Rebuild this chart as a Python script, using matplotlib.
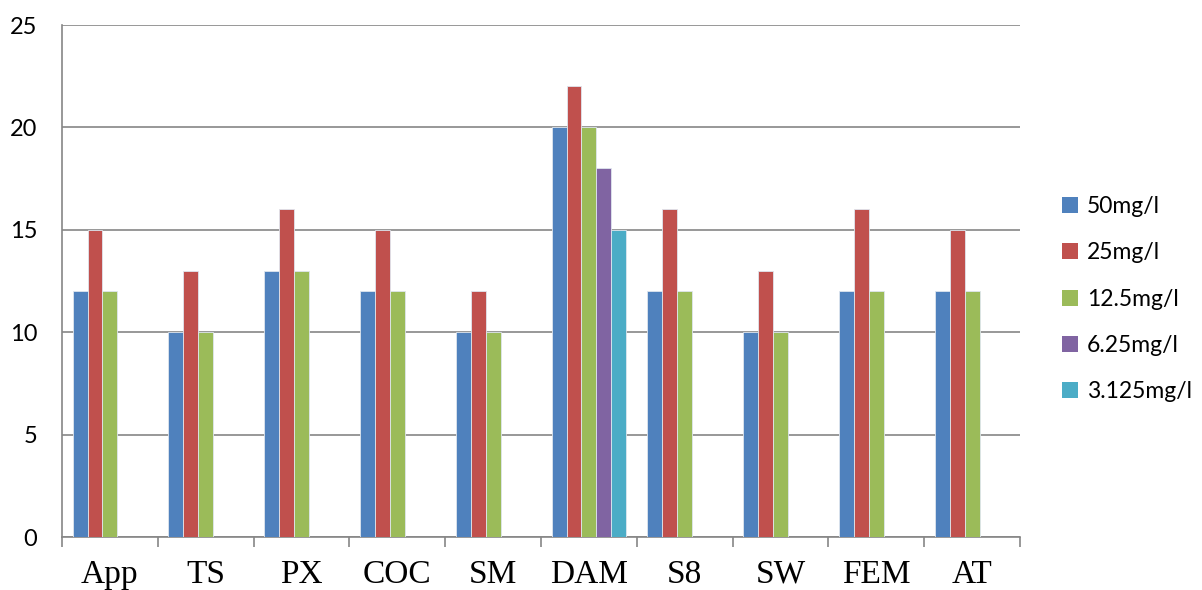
import numpy as np
import matplotlib.pyplot as plt
from matplotlib.patches import Patch

categories = ["App", "TS", "PX", "COC", "SM", "DAM", "S8", "SW", "FEM", "AT"]
series_names = ["50mg/l", "25mg/l", "12.5mg/l", "6.25mg/l", "3.125mg/l"]
s50 = [12, 10, 13, 12, 10, 20, 12, 10, 12, 12]
s25 = [15, 13, 16, 15, 12, 22, 16, 13, 16, 15]
s12_5 = [12, 10, 13, 12, 10, 20, 12, 10, 12, 12]
s6_25 = [0, 0, 0, 0, 0, 18, 0, 0, 0, 0]
s3_125 = [0, 0, 0, 0, 0, 15, 0, 0, 0, 0]
colors = ["#4F81BD", "#C0504D", "#9BBB59", "#8064A2", "#4BACC6"]

fig = plt.figure(figsize=(12.02, 5.9), dpi=100)
ax = fig.add_axes([0.0516, 0.0898, 0.797, 0.8678])

x = np.arange(len(categories))
w = 0.156
all_series = [s50, s25, s12_5, s6_25, s3_125]
for i, (vals, c) in enumerate(zip(all_series, colors)):
    h = np.array(vals, dtype=float)
    h[h == 0] = np.nan
    ax.bar(x + 0.5 + (i - 2) * w, h, width=w, color=c, edgecolor="#dfe6ee",
           linewidth=0.6, zorder=3)

ax.set_xlim(0, len(categories))
ax.set_ylim(0, 25)
ax.set_yticks(range(0, 26, 5))
ax.set_yticklabels([str(v) for v in range(0, 26, 5)], family="Lato", fontsize=17)
ax.yaxis.grid(True, color="#868686", linewidth=1.2, zorder=0)
ax.tick_params(axis="y", length=0, pad=18)

ax.set_xticks(np.arange(len(categories) + 1))
ax.set_xticklabels([])
ax.set_xticks(x + 0.5, minor=True)
ax.set_xticklabels(categories, minor=True, family="Liberation Serif", fontsize=24)
ax.tick_params(axis="x", which="major", length=7, width=1.2, color="#868686", direction="out")
ax.tick_params(axis="x", which="minor", length=0, pad=16)

for side in ["top", "right"]:
    ax.spines[side].set_visible(False)
ax.spines["left"].set_color("#868686")
ax.spines["left"].set_linewidth(1.2)
ax.spines["bottom"].set_color("#868686")
ax.spines["bottom"].set_linewidth(1.2)

handles = [Patch(facecolor=c, edgecolor="none") for c in colors]
leg = fig.legend(handles, series_names, loc="center left", bbox_to_anchor=(0.866, 0.493),
                 frameon=False, prop={"family": "Lato", "size": 16.5},
                 handlelength=0.7, handleheight=0.7, handletextpad=0.4, labelspacing=1.1)

fig.savefig("out.png", dpi=100)
